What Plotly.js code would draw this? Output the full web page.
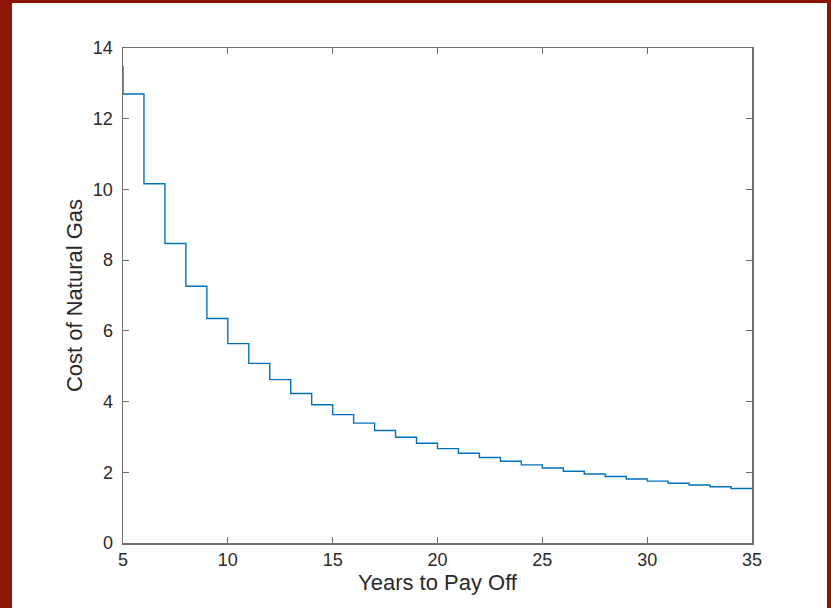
<!DOCTYPE html>
<html>
<head>
<meta charset="utf-8">
<script src="https://cdn.plot.ly/plotly-3.0.1.min.js"></script>
<style>
  html, body { margin: 0; padding: 0; width: 831px; height: 608px; background: #8b1608; overflow: hidden; }
  #chart { position: absolute; left: 12px; top: 3px; width: 815px; height: 605px; background: #ffffff; }
</style>
</head>
<body>
<div id="chart"></div>
<script>
// Years to pay off (step start points) and cost of natural gas
const years = [5, 5, 6, 7, 8, 9, 10, 11, 12, 13, 14, 15, 16, 17, 18, 19, 20,
               21, 22, 23, 24, 25, 26, 27, 28, 29, 30, 31, 32, 33, 34, 35];
const cost = [13.5, 12.70, 10.16, 8.47, 7.26, 6.35, 5.64, 5.08, 4.62, 4.23, 3.91,
              3.63, 3.39, 3.18, 2.99, 2.82, 2.67, 2.54, 2.42, 2.31, 2.21,
              2.12, 2.03, 1.95, 1.88, 1.81, 1.75, 1.69, 1.64, 1.59, 1.54, 1.54];
const xTicks = [5, 10, 15, 20, 25, 30, 35];
const yTicks = [0, 2, 4, 6, 8, 10, 12, 14];

const axisColor = '#6e6e6e';
const textColor = '#2a2a2a';
const fontFamily = 'Liberation Sans, Arial, Helvetica, sans-serif';

const trace = {
  x: years,
  y: cost,
  type: 'scatter',
  mode: 'lines',
  line: { shape: 'hv', color: '#0072BD', width: 1.4 },
  hoverinfo: 'x+y'
};

const layout = {
  width: 815,
  height: 605,
  margin: { l: 111, r: 75, t: 44.5, b: 65 },
  paper_bgcolor: '#ffffff',
  plot_bgcolor: '#ffffff',
  showlegend: false,
  font: { family: fontFamily, color: textColor, size: 18 },
  xaxis: {
    range: [5, 35],
    tickvals: xTicks,
    ticktext: xTicks.map(String),
    ticks: 'inside',
    ticklen: 6,
    tickwidth: 1,
    tickcolor: axisColor,
    showline: true,
    linecolor: axisColor,
    linewidth: 1.5,
    mirror: 'ticks',
    showgrid: false,
    zeroline: false,
    tickfont: { size: 18, color: textColor, family: fontFamily },
    title: { text: 'Years to Pay Off', font: { size: 22, color: textColor, family: fontFamily }, standoff: 4 }
  },
  yaxis: {
    range: [0, 14],
    tickvals: yTicks,
    ticktext: yTicks.map(String),
    ticks: 'inside',
    ticklen: 6,
    tickwidth: 1,
    tickcolor: axisColor,
    showline: true,
    linecolor: axisColor,
    linewidth: 1.5,
    mirror: 'ticks',
    showgrid: false,
    zeroline: false,
    ticklabelstandoff: 5,
    tickfont: { size: 18, color: textColor, family: fontFamily },
    title: { text: 'Cost of Natural Gas', font: { size: 22, color: textColor, family: fontFamily }, standoff: 4 }
  }
};

Plotly.newPlot('chart', [trace], layout, { displayModeBar: false, staticPlot: true });
</script>
</body>
</html>
